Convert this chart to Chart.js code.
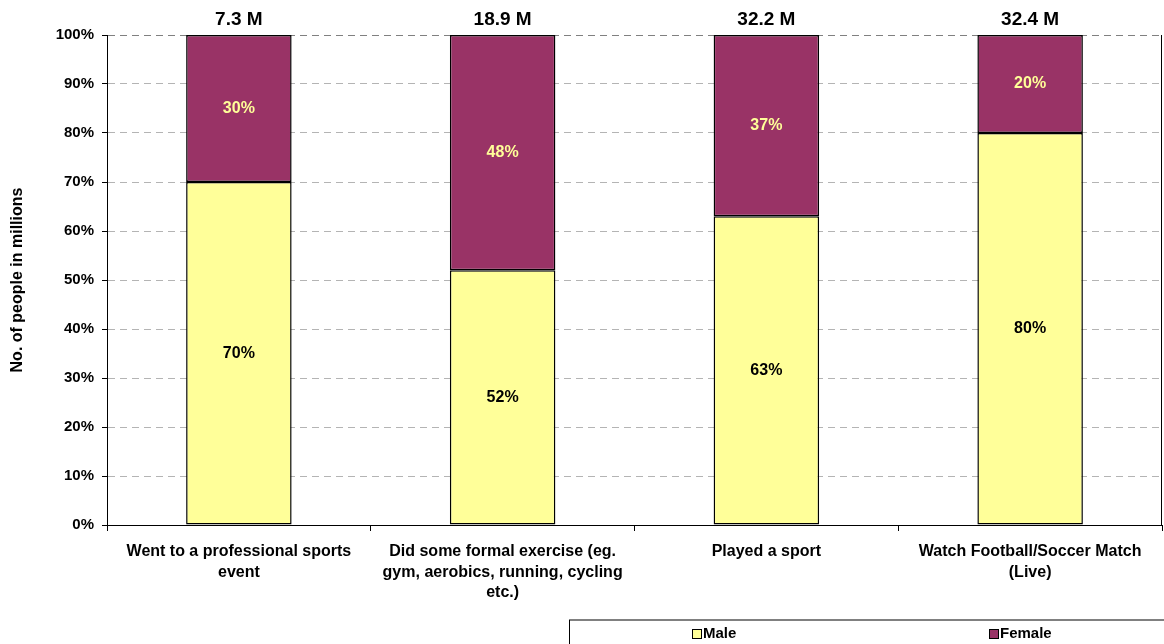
<!DOCTYPE html>
<html>
<head>
<meta charset="utf-8">
<script src="https://cdn.jsdelivr.net/npm/chart.js@4/dist/chart.umd.min.js"></script>
<style>
  html, body { margin: 0; padding: 0; background: #fff; }
</style>
</head>
<body>
<canvas id="sportsChart" width="1164" height="644"></canvas>
<script>
const categories = [
    ['Went to a professional sports', 'event'],
    ['Did some formal exercise (eg.', 'gym, aerobics, running, cycling', 'etc.)'],
    'Played a sport',
    ['Watch Football/Soccer Match', '(Live)']
];
const maleShare = [70, 52, 63, 80];
const femaleShare = [30, 48, 37, 20];
const totalsMillions = [7.3, 18.9, 32.2, 32.4];
const yTicks = [0, 10, 20, 30, 40, 50, 60, 70, 80, 90, 100];

const FONT = 'Arial, "Liberation Sans", sans-serif';

// percent labels inside the bars + totals on top
const barLabels = {
    id: 'barLabels',
    afterDatasetsDraw(chart) {
        const ctx = chart.ctx;
        ctx.save();
        ctx.textAlign = 'center';
        ctx.textBaseline = 'middle';
        ctx.font = 'bold 16px ' + FONT;
        chart.data.datasets.forEach((ds, i) => {
            chart.getDatasetMeta(i).data.forEach((bar, j) => {
                ctx.fillStyle = ds.labelColor;
                ctx.fillText(ds.data[j] + '%', bar.x, (bar.y + bar.base) / 2);
            });
        });
        const topMeta = chart.getDatasetMeta(chart.data.datasets.length - 1);
        ctx.fillStyle = '#000';
        ctx.font = 'bold 19px ' + FONT;
        topMeta.data.forEach((bar, j) => {
            ctx.fillText(totalsMillions[j] + ' M', bar.x, bar.y - 15);
        });
        ctx.restore();
    }
};

// right edge of plot area and the boxed legend below
const frameAndLegend = {
    id: 'frameAndLegend',
    afterDraw(chart) {
        const ctx = chart.ctx;
        const a = chart.chartArea;
        ctx.save();
        ctx.strokeStyle = '#000';
        ctx.lineWidth = 1;
        ctx.beginPath();
        ctx.moveTo(Math.round(a.right) - 0.5, a.top);
        ctx.lineTo(Math.round(a.right) - 0.5, a.bottom);
        ctx.stroke();

        // legend box
        ctx.strokeStyle = '#808080';
        ctx.lineWidth = 2;
        ctx.beginPath();
        ctx.moveTo(569, 620);
        ctx.lineTo(1170, 620);
        ctx.stroke();
        ctx.strokeStyle = '#000';
        ctx.lineWidth = 1;
        ctx.beginPath();
        ctx.moveTo(569.5, 620);
        ctx.lineTo(569.5, 650);
        ctx.stroke();

        const itemX = [692, 989];
        ctx.font = 'bold 15px ' + FONT;
        ctx.textBaseline = 'middle';
        ctx.textAlign = 'left';
        chart.data.datasets.forEach((ds, i) => {
            const x = itemX[i];
            ctx.fillStyle = ds.backgroundColor;
            ctx.fillRect(x, 629, 9, 9);
            ctx.strokeRect(x + 0.5, 629.5, 9, 9);
            ctx.fillStyle = '#000';
            ctx.fillText(ds.label, x + 11, 634);
        });
        ctx.restore();
    }
};

new Chart(document.getElementById('sportsChart').getContext('2d'), {
    type: 'bar',
    data: {
        labels: categories,
        datasets: [
            { label: 'Male', data: maleShare, backgroundColor: '#FFFF99', labelColor: '#000' },
            { label: 'Female', data: femaleShare, backgroundColor: '#993366', labelColor: '#FFFF99' }
        ]
    },
    options: {
        responsive: false,
        animation: false,
        layout: { padding: { top: 35, right: 2, left: 0, bottom: 0 } },
        datasets: {
            bar: {
                borderColor: '#000',
                borderWidth: 1.5,
                borderSkipped: false,
                categoryPercentage: 1,
                barPercentage: 0.4
            }
        },
        plugins: {
            legend: { display: false },
            tooltip: { enabled: false }
        },
        scales: {
            x: {
                stacked: true,
                afterFit: s => { s.height = 119; },
                grid: { offset: true, drawOnChartArea: false, tickLength: 6, color: '#000', tickColor: '#000' },
                border: { color: '#000', width: 1 },
                ticks: {
                    color: '#000',
                    padding: 10,
                    maxRotation: 0,
                    autoSkip: false,
                    font: { family: FONT, size: 16, weight: 'bold', lineHeight: 1.3 }
                }
            },
            y: {
                stacked: true,
                min: 0,
                max: 100,
                afterFit: s => { s.width = 107; },
                afterBuildTicks: s => { s.ticks = yTicks.map(v => ({ value: v })); },
                title: {
                    display: true,
                    text: 'No. of people in millions',
                    color: '#000',
                    font: { family: FONT, size: 16, weight: 'bold' },
                    padding: { top: 8, bottom: 0 }
                },
                grid: {
                    color: c => c.tick.value === 0 ? 'rgba(0,0,0,0)' : (c.tick.value === 100 ? '#808080' : '#b4b4b4'),
                    tickColor: '#000',
                    tickLength: 5
                },
                border: { color: '#000', width: 1, dash: [7, 5] },
                ticks: {
                    color: '#000',
                    padding: 8,
                    callback: v => v + '%',
                    font: { family: FONT, size: 15, weight: 'bold' }
                }
            }
        }
    },
    plugins: [barLabels, frameAndLegend]
});
</script>
</body>
</html>
